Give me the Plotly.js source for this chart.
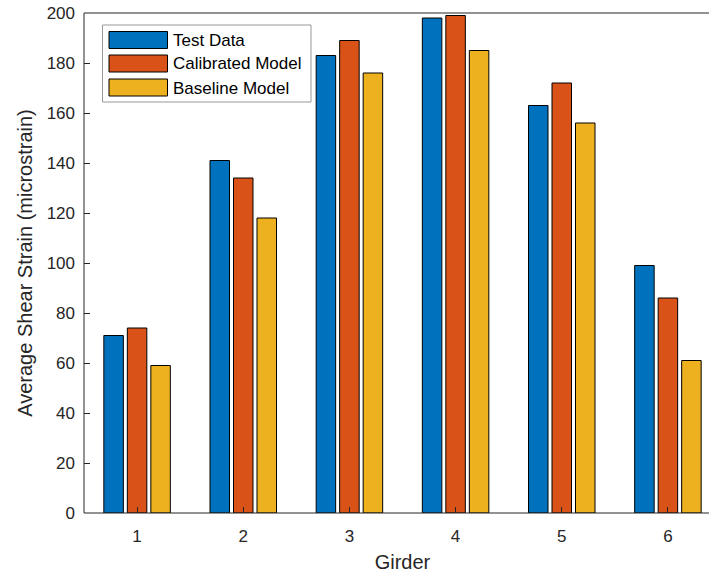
<!DOCTYPE html>
<html>
<head>
<meta charset="utf-8">
<script src="https://cdn.plot.ly/plotly-3.0.1.min.js"></script>
<style>
html,body{margin:0;padding:0;overflow:hidden;background:#fff;}
#chart{width:722px;height:573px;}
</style>
</head>
<body>
<div id="chart"></div>
<script>
const girders = [1, 2, 3, 4, 5, 6];
const testData = [71, 141, 183, 198, 163, 99];
const calibratedModel = [74, 134, 189, 199, 172, 86];
const baselineModel = [59, 118, 176, 185, 156, 61];
const seriesNames = ['Test Data', 'Calibrated Model', 'Baseline Model'];
const seriesColors = ['#0072BD', '#D95319', '#EDB120'];
const yTicks = [0, 20, 40, 60, 80, 100, 120, 140, 160, 180, 200];

const allSeries = [testData, calibratedModel, baselineModel];
const traces = allSeries.map((vals, i) => ({
  type: 'bar',
  x: girders,
  y: vals,
  name: seriesNames[i],
  marker: {color: seriesColors[i], line: {color: '#000000', width: 1}},
  hoverinfo: 'x+y+name'
}));

const textColor = '#262626';
const fam = 'Liberation Sans, Arial, sans-serif';

const W = 722, H = 573, ml = 84, mt = 13, pw = 637, ph = 500;
function px2paperX(px){ return (px - ml) / pw; }
function px2paperY(py){ return 1 - (py - mt) / ph; }

const shapes = [{
  type: 'rect', xref: 'paper', yref: 'paper',
  x0: 0, x1: 1, y0: 0, y1: 1,
  line: {color: '#262626', width: 1}, fillcolor: 'rgba(0,0,0,0)', layer: 'above'
}];
const annotations = [];
const lx0 = 102.5, ly0 = 25, lw = 208.5, lh = 77;
shapes.push({
  type: 'rect', xref: 'paper', yref: 'paper',
  x0: px2paperX(lx0), x1: px2paperX(lx0 + lw),
  y0: px2paperY(ly0), y1: px2paperY(ly0 + lh),
  line: {color: '#999999', width: 1}, fillcolor: '#ffffff', layer: 'above'
});
const rowCenters = [40, 63.5, 87.5];
seriesNames.forEach((n, i) => {
  const cy = rowCenters[i];
  shapes.push({
    type: 'rect', xref: 'paper', yref: 'paper',
    x0: px2paperX(109), x1: px2paperX(167.5),
    y0: px2paperY(cy - 8.5), y1: px2paperY(cy + 8.5),
    line: {color: '#000000', width: 1}, fillcolor: seriesColors[i], layer: 'above'
  });
  annotations.push({
    xref: 'paper', yref: 'paper',
    x: px2paperX(171), y: px2paperY(cy + 0.5),
    xanchor: 'left', yanchor: 'middle', showarrow: false,
    text: n, font: {family: fam, size: 17, color: '#000000'}
  });
});

const layout = {
  width: W, height: H,
  margin: {l: ml, r: W - ml - pw, t: mt, b: H - mt - ph},
  paper_bgcolor: '#ffffff', plot_bgcolor: '#ffffff',
  font: {family: fam, size: 17, color: textColor},
  showlegend: false,
  barmode: 'group',
  bargap: 0.336,
  bargroupgap: 0.17,
  xaxis: {
    range: [0.5, 6.5],
    tickmode: 'array', tickvals: girders, ticktext: girders.map(String),
    ticks: 'inside', ticklen: 6, tickcolor: textColor, tickwidth: 1,
    ticklabelstandoff: 11,
    showline: false, mirror: false, showgrid: false, zeroline: false,
    tickfont: {family: fam, size: 17, color: textColor},
    title: {text: 'Girder', font: {family: fam, size: 20, color: textColor}, standoff: 9}
  },
  yaxis: {
    range: [0, 200],
    tickmode: 'array', tickvals: yTicks, ticktext: yTicks.map(String),
    ticks: 'inside', ticklen: 6, tickcolor: textColor, tickwidth: 1,
    ticklabelstandoff: 8,
    showline: false, mirror: false, showgrid: false, zeroline: false,
    tickfont: {family: fam, size: 17, color: textColor},
    title: {text: 'Average Shear Strain (microstrain)', font: {family: fam, size: 20, color: textColor}, standoff: 8}
  },
  shapes: shapes,
  annotations: annotations
};

Plotly.newPlot('chart', traces, layout, {displayModeBar: false, staticPlot: true});
</script>
</body>
</html>
